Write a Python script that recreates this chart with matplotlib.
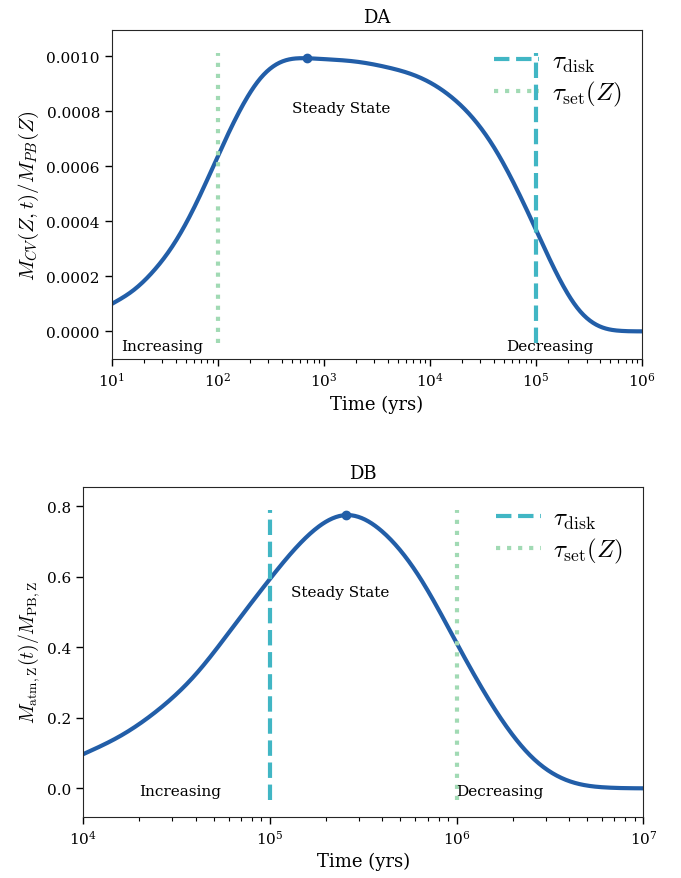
import matplotlib
matplotlib.use("Agg")
import matplotlib.pyplot as plt
from matplotlib.ticker import LogLocator, NullFormatter
import numpy as np

plt.rcParams['font.family'] = 'DejaVu Serif'
plt.rcParams['mathtext.fontset'] = 'cm'

# colours (YlGnBu style)
c_curve = '#225ea8'
c_disk = '#41b6c4'
c_set = '#a1dab4'

# --- DA panel: log10(time in yrs) and M_CV/M_PB
da_logt = [1.0, 1.2, 1.4, 1.6, 1.8, 2.0, 2.2, 2.4, 2.6, 2.845, 3.0, 3.3, 3.6,
           3.9, 4.2, 4.4, 4.6, 4.8, 5.0, 5.2, 5.4, 5.6, 5.8, 6.0]
da_mass = [0.0000995, 0.000148, 0.000222, 0.000326, 0.000468, 0.000636, 0.000797,
           0.000919, 0.000980, 0.000993, 0.000990, 0.000981, 0.000960, 0.000924,
           0.000853, 0.000778, 0.000672, 0.000532, 0.000370, 0.000207, 0.0000806,
           0.0000183, 0.0000018, 0.0]
da_peak = (700, 0.000993)
da_tau_disk = 1e5
da_tau_set = 1e2

# --- DB panel
db_logt = [4.0, 4.2, 4.4, 4.6, 4.8, 5.0, 5.2, 5.407, 5.6, 5.8, 6.0, 6.2, 6.4,
           6.6, 6.8, 7.0]
db_mass = [0.097, 0.149, 0.222, 0.322, 0.456, 0.594, 0.715, 0.775, 0.729, 0.600,
           0.412, 0.228, 0.090, 0.021, 0.0024, 0.0]
db_peak = (2.55e5, 0.775)
db_tau_disk = 1e5
db_tau_set = 1e6


def spline(logt, vals, n=500):
    # natural cubic spline through the read points, in log time
    x = np.asarray(logt, float)
    y = np.asarray(vals, float)
    k = len(x)
    h = np.diff(x)
    A = np.zeros((k, k))
    b = np.zeros(k)
    A[0, 0] = A[-1, -1] = 1
    for i in range(1, k - 1):
        A[i, i - 1] = h[i - 1]
        A[i, i] = 2 * (h[i - 1] + h[i])
        A[i, i + 1] = h[i]
        b[i] = 6 * ((y[i + 1] - y[i]) / h[i] - (y[i] - y[i - 1]) / h[i - 1])
    M = np.linalg.solve(A, b)
    xs = np.linspace(x[0], x[-1], n)
    j = np.clip(np.searchsorted(x, xs) - 1, 0, k - 2)
    a = x[j + 1] - xs
    c = xs - x[j]
    ys = (M[j] * a**3 + M[j + 1] * c**3) / (6 * h[j]) \
        + (y[j] / h[j] - M[j] * h[j] / 6) * a + (y[j + 1] / h[j] - M[j + 1] * h[j] / 6) * c
    return 10**xs, ys


fig = plt.figure(figsize=(6.81, 8.79), dpi=100)
ax1 = fig.add_axes([0.164, 0.5904, 0.7787, 0.3743])
ax2 = fig.add_axes([0.1223, 0.0697, 0.8224, 0.3755])


def panel(ax, logt, mass, peak, tau_disk, tau_set, title, ylabel, ylabel_size,
          xlim, ylim, texts):
    t, m = spline(logt, mass)
    ax.plot(t, m, color=c_curve, lw=3)
    ax.plot(*peak, 'o', color=c_curve, ms=6)
    ax.axvline(tau_disk, ymin=0.05, ymax=0.93, color=c_disk, ls='--', lw=3,
               label=r'$\tau_{\rm disk}$')
    ax.axvline(tau_set, ymin=0.05, ymax=0.93, color=c_set, ls=':', lw=3,
               label=r'$\tau_{\rm set}(Z)$')
    ax.set_xscale('log')
    ax.xaxis.set_major_locator(LogLocator(base=10, numticks=20))
    ax.xaxis.set_minor_locator(LogLocator(base=10, subs=np.arange(2, 10), numticks=100))
    ax.xaxis.set_minor_formatter(NullFormatter())
    ax.set_xlim(*xlim)
    ax.set_ylim(*ylim)
    for x, y, s in texts:
        ax.text(x, y, s, fontsize=11, va='center')
    ax.set_title(title, fontsize=13)
    ax.set_xlabel('Time (yrs)', fontsize=13)
    ax.set_ylabel(ylabel, fontsize=ylabel_size, labelpad=4)
    ax.tick_params(which='major', labelsize=11, length=5, width=1)
    ax.tick_params(which='minor', length=3, width=0.8)
    for sp in ax.spines.values():
        sp.set_color('0.15')
    ax.legend(loc='upper right', frameon=False, fontsize=18,
              handlelength=1.8, handletextpad=0.5, labelspacing=0.2,
              borderaxespad=0.4)


panel(ax1, da_logt, da_mass, da_peak, da_tau_disk, da_tau_set, 'DA',
      r'$M_{CV}(Z,t)/M_{PB}(Z)$', 15, (1e1, 1e6), (-0.0001007, 0.0010957),
      [(12.2, -0.0000524, 'Increasing'), (500, 0.000812, 'Steady State'),
       (5.2e4, -0.0000524, 'Decreasing')])

panel(ax2, db_logt, db_mass, db_peak, db_tau_disk, db_tau_set, 'DB',
      r'$M_{\rm atm,Z}(t)/M_{\rm PB,Z}$', 14, (1e4, 1e7), (-0.0806, 0.8556),
      [(2.0e4, -0.007, 'Increasing'), (1.29e5, 0.558, 'Steady State'),
       (1.0e6, -0.007, 'Decreasing')])

fig.savefig('out.png', dpi=100)
